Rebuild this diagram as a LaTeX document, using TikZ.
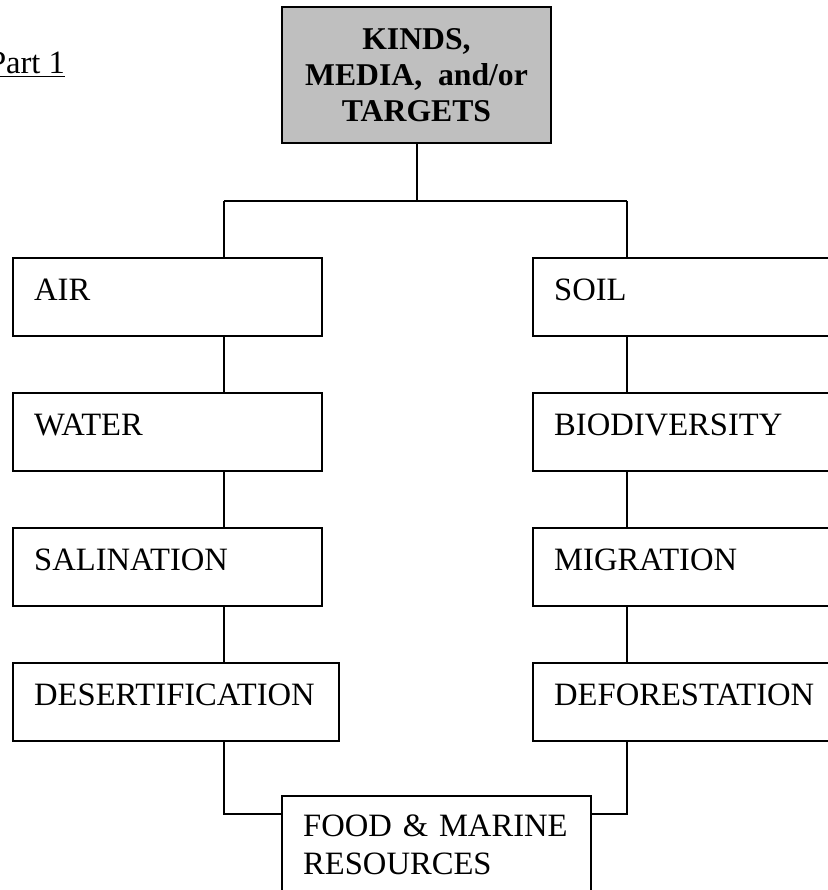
\documentclass[tikz,border=0pt]{standalone}
\usepackage{fontspec}
\setmainfont{Liberation Serif}
\usetikzlibrary{positioning}
\hyphenpenalty=10000
\exhyphenpenalty=10000

\begin{document}
\begin{tikzpicture}[x=0.5pt,y=-0.5pt,line width=1pt,
  every node/.style={font=\fontsize{16.3}{19}\selectfont},
  item/.style={draw,line width=1.2pt,anchor=north west,inner xsep=10.5pt,inner ysep=0pt,
    text width=133.5pt,align=left,text height=21pt,text depth=18pt}]
 \useasboundingbox (0,0) rectangle (828,890);
 \node[anchor=base east,inner sep=0pt] (part) at (66,73) {\underline{Part 1}};
 \node[draw,line width=1.2pt,fill=black!25,minimum width=134.5pt,minimum height=68pt,
   inner sep=0pt,align=center,font=\bfseries\fontsize{15.85}{18}\selectfont] (kinds) at (416.5,75)
   {KINDS,\\MEDIA,\ \ and/or\\TARGETS};
 \node[item] (air) at (12,257) {AIR};
 \node[item] (water) at (12,392) {WATER};
 \node[item] (salin) at (12,527) {SALINATION};
 \node[item,text width=142pt] (desert) at (12,662) {DESERTIFICATION};
 \node[item] (soil) at (532,257) {SOIL};
 \node[item] (biodiv) at (532,392) {BIODIVERSITY};
 \node[item] (migr) at (532,527) {MIGRATION};
 \node[item] (defor) at (532,662) {DEFORESTATION};
 \node[item,text height=20pt,text depth=50pt] (food) at (281,795) {FOOD \& MARINE\\RESOURCES};
 \coordinate (lcol) at (224,0);
 \coordinate (rcol) at (627,0);
 \coordinate (bus) at (0,201);
 \coordinate (foot) at (0,814);
 \draw (kinds.south) -- (kinds.south |- bus);
 \draw (lcol |- bus) -- (rcol |- bus);
 \draw (lcol |- bus) -- (lcol |- air.north);
 \draw (rcol |- bus) -- (rcol |- soil.north);
 \foreach \a/\b in {air/water,water/salin,salin/desert}
  \draw (lcol |- \a.south) -- (lcol |- \b.north);
 \foreach \a/\b in {soil/biodiv,biodiv/migr,migr/defor}
  \draw (rcol |- \a.south) -- (rcol |- \b.north);
 \draw (lcol |- desert.south) |- (food.west |- foot);
 \draw (rcol |- defor.south) |- (food.east |- foot);
\end{tikzpicture}
\end{document}
